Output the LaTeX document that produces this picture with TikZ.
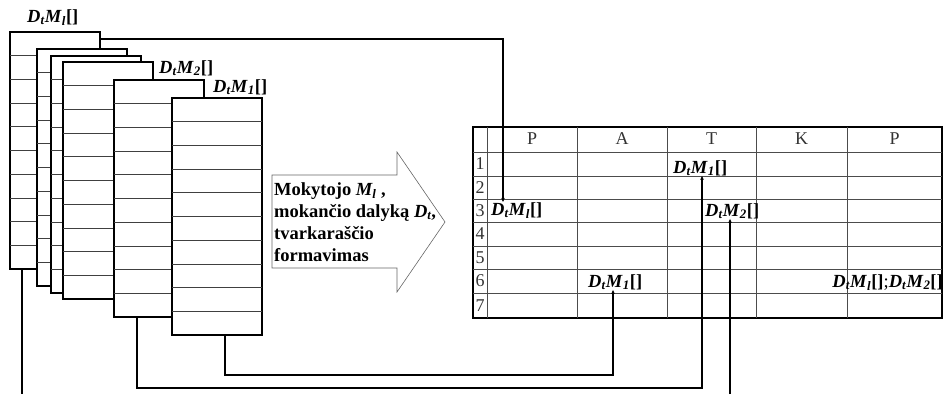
\documentclass[tikz,border=0pt]{standalone}
\usepackage{fontspec}
\setmainfont{Liberation Serif}
\usetikzlibrary{arrows.meta}

\newcommand{\dmt}[1]{\textbf{\textit{D}\textsubscript{\textit{t}}\textit{M}\textsubscript{\textit{#1}}[]}}

\begin{document}
\begin{tikzpicture}[x=1pt,y=-1pt,
  sheetbox/.style={draw,fill=white,line width=1.4pt,inner sep=0,outer sep=0,
    minimum width=90pt,minimum height=237pt,anchor=north west},
  rowline/.style={line width=0.8pt,black!75},
  lbl/.style={inner sep=0,font=\fontsize{18.5}{20}\selectfont},
  head/.style={inner sep=0,font=\fontsize{18}{20}\selectfont,black!80},
  gridline/.style={line width=0.8pt,black!70},
  wire/.style={line width=1.2pt},
  link/.style={wire,-{Stealth[length=4pt,width=3.5pt]}}]
\useasboundingbox (0,0) rectangle (943,394);

% stacked sheets, back to front
\foreach \sx/\sy [count=\i] in {10/32,37/49,51/56,63/62,114/80,172/98}{
  \node[sheetbox] (s\i) at (\sx,\sy) {};
  \foreach \r in {1,...,9}
    \draw[rowline] ([yshift=-\r*23.7pt]s\i.north west) -- ([yshift=-\r*23.7pt]s\i.north east);
}
\node[lbl,anchor=base west] (l1) at (27,22) {\dmt{l}};
\node[lbl,anchor=base west] (l5) at (159,73) {\dmt{2}};
\node[lbl,anchor=base west] (l6) at (213,92) {\dmt{1}};

% big arrow
\draw[black!60,fill=white,line width=0.6pt] (272,175) -- (397,175) -- (397,152) -- (445,222)
  -- (397,292) -- (397,268) -- (272,268) -- cycle;
\node[inner sep=0,anchor=west,align=left,font=\bfseries\fontsize{18.5}{22}\selectfont] (form) at (274,222)
  {Mokytojo \textit{M\textsubscript{l}} ,\\mokančio dalyką \textit{D\textsubscript{t}},\\tvarkaraščio\\formavimas};

% timetable
\draw[line width=1.6pt] (473,127) rectangle (942,318);
\foreach \cx in {487,577,667,756,847} \draw[gridline] (\cx,127) -- (\cx,318);
\foreach \ry in {152,176,199,222,246,269,293} \draw[gridline] (473,\ry) -- (942,\ry);
\foreach \cx/\t [count=\j] in {532/P,622/A,711.5/T,801.5/K,894.5/P}
  \node[head] (h\j) at (\cx,139) {\t};
\foreach \ry [count=\k] in {164,187.5,210.5,234,257.5,281,305.5}
  \node[head] (r\k) at (480,\ry) {\k};

\node[lbl,anchor=base west] (c1t) at (673,173) {\dmt{1}};
\node[lbl,anchor=base west] (c3p) at (491,215) {\dmt{l}};
\node[lbl,anchor=base west] (c3t) at (705,216) {\dmt{2}};
\node[lbl,anchor=base west] (c6a) at (588,287) {\dmt{1}};
\node[lbl,anchor=base east] (c6p) at (943,287) {\dmt{l};\dmt{2}};

% connectors
\coordinate (cutA) at (22,394);
\coordinate (cutB) at (730,394);
\draw[link] ([yshift=-7pt]s1.north east) -| ([xshift=12pt]c3p.north west);
\draw[link] ([xshift=8pt]s6.south) -- ++(0,40) -| ([xshift=25pt]c6a.south west);
\draw[link] ([xshift=-22pt]s5.south) -- ++(0,71) -| ([xshift=29pt]c1t.south west);
\draw[wire] (cutA |- s1.south) -- (cutA);
\draw[link] (cutB) -- (cutB |- c3t.south);
\end{tikzpicture}
\end{document}
